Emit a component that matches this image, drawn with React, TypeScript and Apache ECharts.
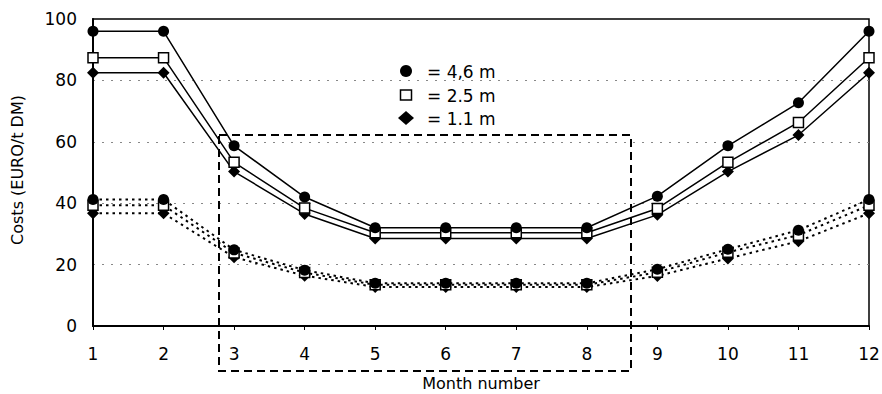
import React, { useEffect, useRef } from "react";
import * as echarts from "echarts";

// Month numbers on the x axis
const months = [1, 2, 3, 4, 5, 6, 7, 8, 9, 10, 11, 12];

// Upper (solid) cost curves, EURO/t DM
const upper46 = [96, 96, 58.7, 42, 32, 32, 32, 32, 42.3, 58.7, 72.7, 96];
const upper25 = [87.4, 87.4, 53.3, 38.4, 30.4, 30.4, 30.4, 30.4, 38.3, 53.3, 66.3, 87.4];
const upper11 = [82.5, 82.5, 50.3, 36.5, 28.5, 28.5, 28.5, 28.5, 36.2, 50.3, 62.2, 82.5];

// Lower (dotted) cost curves, EURO/t DM
const lower46 = [41.2, 41.2, 24.8, 18.2, 13.9, 13.9, 13.9, 13.9, 18.5, 25, 31.2, 41.2];
const lower25 = [39.3, 39.3, 23.8, 17.4, 13.4, 13.4, 13.4, 13.4, 17.5, 24, 29.6, 39.3];
const lower11 = [36.7, 36.7, 22.4, 16.4, 12.7, 12.7, 12.7, 12.7, 16.3, 22, 27.6, 36.7];

const yTicks = [0, 20, 40, 60, 80, 100];

const legendLabels = ["= 4,6 m", "= 2.5 m", "= 1.1 m"];

const FONT = "DejaVu Sans";

const pairs = (vals: number[]) => months.map((m, i) => [m, vals[i]]);

const markerStyles = [
  { symbol: "circle", symbolSize: 11, itemStyle: { color: "#000" } },
  {
    symbol: "rect",
    symbolSize: 10,
    itemStyle: { color: "#fff", borderColor: "#000", borderWidth: 1.5 },
  },
  { symbol: "diamond", symbolSize: 12, itemStyle: { color: "#000" } },
];

export default function App() {
  const ref = useRef<HTMLDivElement>(null);

  useEffect(() => {
    document.body.style.margin = "0";
    if (!ref.current) return;
    const chart = echarts.init(ref.current, null, { renderer: "svg" });

    const solid = [upper46, upper25, upper11].map((vals, i) => ({
      type: "line",
      data: pairs(vals),
      ...markerStyles[i],
      showSymbol: true,
      lineStyle: { color: "#000", width: 1.5, type: "solid" },
      z: 5 - i,
    }));
    const dotted = [lower46, lower25, lower11].map((vals, i) => ({
      type: "line",
      data: pairs(vals),
      ...markerStyles[i],
      showSymbol: true,
      lineStyle: { color: "#000", width: 2, type: [2.5, 4] },
      z: 5 - i,
    }));

    const legendSymbols = [
      { type: "circle", shape: { cx: 406, cy: 71, r: 6 }, style: { fill: "#000" } },
      {
        type: "rect",
        shape: { x: 400.5, y: 90, width: 11, height: 10 },
        style: { fill: "#fff", stroke: "#000", lineWidth: 1.5 },
      },
      {
        type: "polygon",
        shape: { points: [[406, 111], [414, 118], [406, 125], [398, 118]] },
        style: { fill: "#000" },
      },
    ];
    const legendTexts = legendLabels.map((t, i) => ({
      type: "text",
      x: 427,
      y: 72 + i * 23.5,
      style: {
        text: t,
        font: `17px '${FONT}'`,
        fill: "#000",
        textAlign: "left",
        textVerticalAlign: "middle",
      },
    }));

    chart.setOption({
      animation: false,
      backgroundColor: "#fff",
      grid: {
        left: 93,
        right: 13,
        top: 19,
        bottom: 68,
        show: true,
        borderColor: "#000",
        borderWidth: 1.5,
        containLabel: false,
        outerBoundsMode: "none",
      },
      xAxis: {
        type: "value",
        min: 1,
        max: 12,
        interval: 1,
        name: "Month number",
        nameLocation: "middle",
        nameGap: 49,
        nameTextStyle: { fontFamily: FONT, fontSize: 16, lineHeight: 16, color: "#000" },
        axisLine: { lineStyle: { color: "#000", width: 2 } },
        axisTick: { show: true, length: 4, lineStyle: { color: "#000" } },
        axisLabel: {
          fontFamily: FONT,
          fontSize: 17,
          color: "#000",
          margin: 19,
          formatter: (v: number) => String(v),
        },
        splitLine: { show: false },
      },
      yAxis: {
        type: "value",
        min: yTicks[0],
        max: yTicks[yTicks.length - 1],
        interval: yTicks[1] - yTicks[0],
        axisLine: { show: true, lineStyle: { color: "#000", width: 2 } },
        axisTick: { show: false },
        axisLabel: { fontFamily: FONT, fontSize: 17, color: "#000", margin: 16 },
        splitLine: {
          show: true,
          showMinLine: false,
          showMaxLine: false,
          lineStyle: { color: "#888", width: 1, type: [2, 7] },
        },
      },
      series: [...dotted, ...solid],
      graphic: [
        {
          type: "text",
          x: 17,
          y: 170,
          rotation: Math.PI / 2,
          style: {
            text: "Costs (EURO/t DM)",
            font: `16px '${FONT}'`,
            fill: "#000",
            textAlign: "center",
            textVerticalAlign: "middle",
          },
        },
        {
          type: "rect",
          shape: { x: 219, y: 135, width: 412, height: 236 },
          style: { fill: "none", stroke: "#000", lineWidth: 2, lineDash: [8, 5] },
          z: 10,
        },
        ...legendSymbols,
        ...legendTexts,
      ],
    });

    return () => chart.dispose();
  }, []);

  return <div ref={ref} style={{ width: 882, height: 394 }} />;
}
